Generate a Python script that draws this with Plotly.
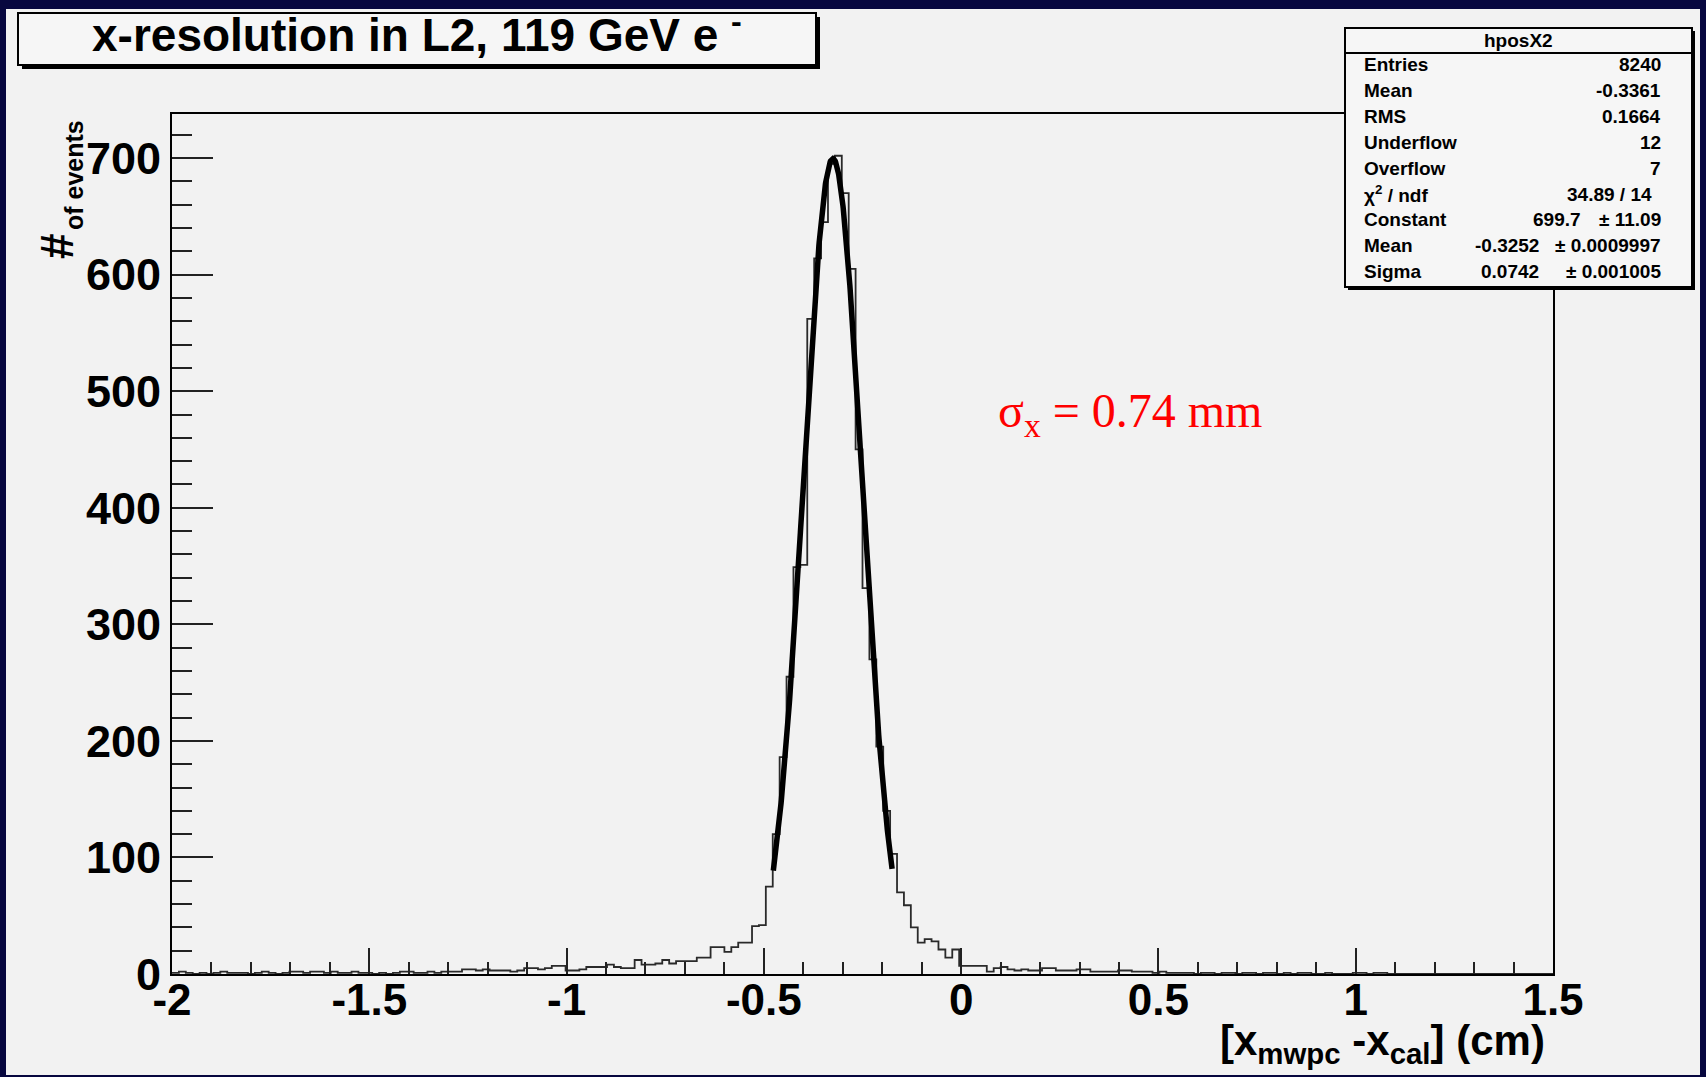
import numpy as np
import plotly.graph_objects as go

# ---------------- data ----------------
x_min, x_max, n_bins = -2.0, 1.5, 200
counts = [
    1, 2, 1, 0, 1, 0, 1, 2, 1, 1,
    1, 0, 1, 2, 1, 0, 1, 2, 2, 1,
    2, 2, 1, 2, 1, 1, 2, 1, 1, 0,
    1, 0, 1, 2, 2, 1, 1, 2, 1, 2,
    2, 2, 4, 4, 3, 4, 3, 3, 3, 2,
    3, 5, 5, 4, 5, 7, 7, 3, 3, 4,
    6, 6, 6, 8, 6, 5, 5, 12, 8, 8,
    9, 12, 9, 11, 11, 11, 14, 14, 23, 23,
    19, 23, 27, 27, 41, 42, 75, 120, 186, 255,
    349, 351, 562, 614, 645, 695, 702, 670, 605, 450,
    331, 270, 195, 140, 103, 70, 59, 40, 27, 30,
    28, 21, 14, 21, 7, 7, 7, 7, 2, 5,
    6, 4, 3, 4, 3, 3, 5, 5, 3, 3,
    3, 4, 4, 2, 2, 2, 2, 3, 3, 2,
    2, 2, 1, 2, 1, 1, 1, 1, 0, 1,
    1, 0, 1, 1, 0, 1, 1, 0, 1, 1,
    0, 1, 0, 1, 1, 0, 0, 1, 0, 0,
    0, 1, 1, 0, 1, 1, 0, 0, 0, 0,
    0, 0, 0, 0, 0, 0, 0, 0, 0, 0,
    0, 0, 0, 0, 0, 0, 0, 0, 0, 0,
]
fit_constant = 699.7
fit_mean = -0.3252
fit_sigma = 0.0742
fit_range = [-0.476, -0.175]
y_max = 737.8

x_tick_vals = [-2, -1.5, -1, -0.5, 0, 0.5, 1, 1.5]
x_tick_text = ["-2", "-1.5", "-1", "-0.5", "0", "0.5", "1", "1.5"]
y_tick_vals = [0, 100, 200, 300, 400, 500, 600, 700]
y_tick_text = ["0", "100", "200", "300", "400", "500", "600", "700"]

title_text = "x-resolution in L2, 119 GeV e <sup>-</sup>"
stats_name = "hposX2"
stat_labels = ["Entries", "Mean", "RMS", "Underflow", "Overflow",
               "χ<sup>2</sup> / ndf", "Constant", "Mean", "Sigma"]
stat_values = ["8240", "-0.3361", "0.1664", "12", "7",
               "34.89 / 14", "699.7", "-0.3252", "0.0742"]
stat_errors = ["", "", "", "", "", "", "± 11.09", "± 0.0009997", "± 0.001005"]
sigma_note = "σ<sub>x</sub> = 0.74 mm"

# ---------------- geometry ----------------
W, H = 1706, 1077
L, R, T, B = 172, 1553, 114, 974

def px(p):
    return (p - L) / (R - L)

def py(p):
    return (B - p) / (B - T)

edges = np.linspace(x_min, x_max, n_bins + 1)
step_y = list(counts) + [counts[-1]]

fx = np.linspace(fit_range[0], fit_range[1], 400)
fy = fit_constant * np.exp(-0.5 * ((fx - fit_mean) / fit_sigma) ** 2)

fig = go.Figure()
fig.add_trace(go.Scatter(x=edges, y=step_y, mode="lines", line_shape="hv",
                         line=dict(color="#2a2a2a", width=1.8),
                         hoverinfo="skip", showlegend=False))
fig.add_trace(go.Scatter(x=fx, y=fy, mode="lines",
                         line=dict(color="black", width=5.5),
                         hoverinfo="skip", showlegend=False))

navy = "#07073f"
bg = "#f2f2f2"
font_family = "Liberation Sans, Arial, sans-serif"

shapes = [
    dict(type="rect", xref="paper", yref="paper", layer="below",
         x0=px(6), x1=px(1700), y0=py(1075), y1=py(9),
         fillcolor=bg, line=dict(width=0)),
    dict(type="rect", xref="paper", yref="paper", layer="above",
         x0=px(22), x1=px(820), y0=py(69), y1=py(17),
         fillcolor="black", line=dict(width=0)),
    dict(type="rect", xref="paper", yref="paper", layer="above",
         x0=px(18), x1=px(816), y0=py(65), y1=py(13),
         fillcolor="#f6f6f6", line=dict(color="black", width=2)),
    dict(type="rect", xref="paper", yref="paper", layer="above",
         x0=px(1348), x1=px(1695), y0=py(290), y1=py(31),
         fillcolor="black", line=dict(width=0)),
    dict(type="rect", xref="paper", yref="paper", layer="above",
         x0=px(1345), x1=px(1692), y0=py(287), y1=py(28),
         fillcolor="#f6f6f6", line=dict(color="black", width=2)),
    dict(type="line", xref="paper", yref="paper", layer="above",
         x0=px(1345), x1=px(1692), y0=py(53), y1=py(53),
         line=dict(color="black", width=2)),
]

annotations = []
annotations.append(dict(text="<b>" + title_text + "</b>", x=px(417), y=py(32),
                        xref="paper", yref="paper", xanchor="center", yanchor="middle",
                        showarrow=False, font=dict(family=font_family, size=46, color="black")))
annotations.append(dict(text="<b>" + stats_name + "</b>", x=px(1518), y=py(41),
                        xref="paper", yref="paper", xanchor="center", yanchor="middle",
                        showarrow=False, font=dict(family=font_family, size=19, color="black")))
row0, dy = 64.5, 25.9
stat_font = dict(family=font_family, size=19, color="black")
for i, lab in enumerate(stat_labels):
    yy = py(row0 + i * dy)
    annotations.append(dict(text="<b>" + lab + "</b>", x=px(1362), y=yy, xref="paper", yref="paper",
                            xanchor="left", yanchor="middle", showarrow=False, font=stat_font))
    if stat_errors[i]:
        vx = 1541 if i >= 7 else 1583
        annotations.append(dict(text="<b>" + stat_values[i] + "</b>", x=px(vx), y=yy,
                                xref="paper", yref="paper", xanchor="right", yanchor="middle",
                                showarrow=False, font=stat_font))
        annotations.append(dict(text="<b>" + stat_errors[i] + "</b>", x=px(1663), y=yy,
                                xref="paper", yref="paper", xanchor="right", yanchor="middle",
                                showarrow=False, font=stat_font))
    else:
        vx = 1654 if i == 5 else 1663
        annotations.append(dict(text="<b>" + stat_values[i] + "</b>", x=px(vx), y=yy,
                                xref="paper", yref="paper", xanchor="right", yanchor="middle",
                                showarrow=False, font=stat_font))

annotations.append(dict(text="<b>#</b>", x=px(57), y=py(246), xref="paper", yref="paper",
                        xanchor="center", yanchor="middle", textangle=-90, showarrow=False,
                        font=dict(family=font_family, size=46, color="black")))
annotations.append(dict(text="<b>of events</b>", x=px(74), y=py(175), xref="paper", yref="paper",
                        xanchor="center", yanchor="middle", textangle=-90, showarrow=False,
                        font=dict(family=font_family, size=25, color="black")))
annotations.append(dict(text="<b>[x<sub>mwpc</sub> -x<sub>cal</sub>] (cm)</b>", x=px(1547), y=py(1043),
                        xref="paper", yref="paper", xanchor="right", yanchor="middle",
                        showarrow=False, font=dict(family=font_family, size=42, color="black")))
annotations.append(dict(text=sigma_note, x=px(1130), y=py(414), xref="paper", yref="paper",
                        xanchor="center", yanchor="middle", showarrow=False,
                        font=dict(family="Liberation Serif, Times New Roman, serif", size=48, color="#ff0000")))

fig.update_layout(
    width=W, height=H,
    margin=dict(l=L, r=W - R, t=T, b=H - B, pad=0),
    paper_bgcolor=navy, plot_bgcolor=bg,
    showlegend=False,
    shapes=shapes, annotations=annotations,
    xaxis=dict(range=[x_min, x_max], tickmode="array", tickvals=x_tick_vals, ticktext=x_tick_text,
               ticks="inside", ticklen=26, tickwidth=2, tickcolor="#222",
               minor=dict(ticks="inside", ticklen=12, tickwidth=2, tickcolor="#222",
                          tickmode="linear", tick0=0, dtick=0.1),
               showline=True, linecolor="black", linewidth=2, mirror=True,
               showgrid=False, zeroline=False, ticklabelstandoff=-14,
               tickfont=dict(family=font_family, size=44, color="black", weight="bold")),
    yaxis=dict(range=[0, y_max], tickmode="array", tickvals=y_tick_vals, ticktext=y_tick_text,
               ticks="inside", ticklen=41, tickwidth=2, tickcolor="#222",
               minor=dict(ticks="inside", ticklen=20, tickwidth=2, tickcolor="#222",
                          tickmode="linear", tick0=0, dtick=20),
               showline=True, linecolor="black", linewidth=2, mirror=True,
               showgrid=False, zeroline=False, ticklabelstandoff=0,
               tickfont=dict(family=font_family, size=45, color="black", weight="bold")),
)

fig.write_html("out.html", config={"displayModeBar": False},
               post_script="document.body.style.margin='0';document.body.style.background='%s';" % navy)
